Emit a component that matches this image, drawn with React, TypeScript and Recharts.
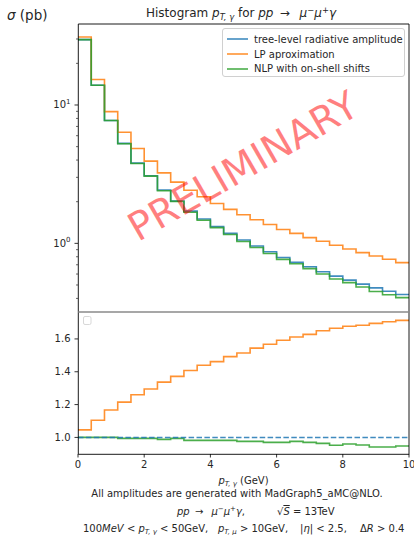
import React from 'react';
import { LineChart, Line, XAxis, YAxis, Legend } from 'recharts';

// ---- data ----
const binEdges = [0, 0.4, 0.8, 1.2, 1.6, 2.0, 2.4, 2.8, 3.2, 3.6, 4.0, 4.4, 4.8, 5.2, 5.6, 6.0, 6.4, 6.8, 7.2, 7.6, 8.0, 8.4, 8.8, 9.2, 9.6, 10];
const treeLevel = [29.7, 13.9, 7.73, 5.28, 3.8, 3.08, 2.43, 2.02, 1.71, 1.5, 1.32, 1.18, 1.057, 0.956, 0.87, 0.79, 0.73, 0.677, 0.623, 0.58, 0.542, 0.507, 0.477, 0.451, 0.427];
const lpApprox = [31.0, 15.3, 8.95, 6.35, 4.85, 3.93, 3.23, 2.77, 2.42, 2.17, 1.94, 1.76, 1.61, 1.48, 1.37, 1.26, 1.18, 1.1, 1.035, 0.97, 0.91, 0.857, 0.81, 0.767, 0.725];
const nlpShifts = [29.7, 13.9, 7.73, 5.25, 3.78, 3.06, 2.4, 2.01, 1.68, 1.47, 1.3, 1.16, 1.032, 0.933, 0.844, 0.766, 0.712, 0.657, 0.601, 0.552, 0.52, 0.484, 0.449, 0.425, 0.405];
const ratioTree = [1, 1, 1, 1, 1, 1, 1, 1, 1, 1, 1, 1, 1, 1, 1, 1, 1, 1, 1, 1, 1, 1, 1, 1, 1];
const ratioLP = [1.046, 1.105, 1.167, 1.215, 1.26, 1.295, 1.337, 1.372, 1.408, 1.44, 1.462, 1.492, 1.514, 1.544, 1.568, 1.592, 1.612, 1.628, 1.65, 1.665, 1.677, 1.683, 1.695, 1.705, 1.713];
const ratioNLP = [1.0, 1.0, 1.0, 0.994, 0.994, 0.994, 0.988, 0.994, 0.982, 0.982, 0.982, 0.982, 0.976, 0.976, 0.97, 0.97, 0.976, 0.97, 0.964, 0.952, 0.96, 0.954, 0.942, 0.942, 0.948];

const xTicks = [0, 2, 4, 6, 8, 10];
const logMajorTicks = [1, 10];
const logAllTicks = [0.4, 0.5, 0.6, 0.7, 0.8, 0.9, 1, 2, 3, 4, 5, 6, 7, 8, 9, 10, 20, 30];
const ratioTicks = [1.0, 1.2, 1.4, 1.6];

const seriesNames = ['tree-level radiative amplitude', 'LP aproximation', 'NLP with on-shell shifts'];
const BLUE = '#1f77b4';
const ORANGE = '#ff7f0e';
const GREEN = '#2ca02c';
const FONT = '"DejaVu Sans", sans-serif';
const TXT = '#262626';

const last = (arr: number[], i: number) => arr[Math.min(i, arr.length - 1)];

const topData = binEdges.map((x, i) => ({
  x,
  tree: last(treeLevel, i),
  lp: last(lpApprox, i),
  nlp: last(nlpShifts, i),
}));

const ratioData = binEdges.map((x, i) => ({
  x,
  tree: last(ratioTree, i),
  lp: last(ratioLP, i),
  nlp: last(ratioNLP, i),
}));

const LogTick = (props: any) => {
  const { x, y, payload } = props;
  const v = payload.value;
  const major = logMajorTicks.includes(v);
  return (
    <g>
      <line x1={x} y1={y} x2={x - (major ? 3.5 : 2)} y2={y} stroke="#000" strokeWidth={major ? 0.8 : 0.6} />
      {major && (
        <text x={x - 7.5} y={y + 3.5} textAnchor="end" fontSize={10} fill={TXT} fontFamily={FONT}>
          10
          <tspan dy={-4.5} fontSize={7}>{v === 1 ? '0' : '1'}</tspan>
        </text>
      )}
    </g>
  );
};

const LegendBox = (props: any) => {
  const payload = [...(props.payload || [])].sort(
    (a: any, b: any) => seriesNames.indexOf(a.value) - seriesNames.indexOf(b.value)
  );
  return (
    <div
      style={{
        width: 183,
        height: 49,
        border: '1px solid #d0d0d0',
        borderRadius: 3,
        background: 'rgba(255,255,255,0.8)',
        fontFamily: FONT,
        fontSize: 10,
        color: TXT,
        boxSizing: 'border-box',
        paddingTop: 3,
      }}
    >
      {payload.map((p: any) => (
        <div key={p.value} style={{ display: 'flex', alignItems: 'center', height: 14.8, whiteSpace: 'nowrap' }}>
          <svg width={30} height={10} style={{ marginLeft: 2 }}>
            <line x1={2} y1={5} x2={23} y2={5} stroke={p.color} strokeWidth={1.6} strokeOpacity={0.85} />
          </svg>
          <span style={{ marginLeft: -1 }}>{p.value}</span>
        </div>
      ))}
    </div>
  );
};

export default function App() {
  const W = 414;
  return (
    <div style={{ position: 'absolute', left: 0, top: 0, width: W, height: 535, background: '#fff', overflow: 'hidden' }}>
      {/* Top panel */}
      <div style={{ position: 'absolute', left: 0, top: 0 }}>
        <LineChart width={W} height={312} data={topData} margin={{ top: 24, right: 5, left: 0, bottom: 0 }}>
          <XAxis dataKey="x" type="number" domain={[0, 10]} ticks={xTicks} hide />
          <YAxis
            type="number"
            scale="log"
            domain={[0.319, 38.5]}
            allowDataOverflow
            ticks={logAllTicks}
            interval={0}
            tick={<LogTick />}
            tickSize={0}
            tickMargin={0}
            tickLine={false}
            axisLine={false}
            width={78}
          />
          <Legend
            verticalAlign="middle"
            align="center"
            layout="horizontal"
            width={183}
            wrapperStyle={{ left: 222, top: 28, width: 183 }}
            content={<LegendBox />}
          />
          <Line type="stepAfter" dataKey="tree" name={seriesNames[0]} stroke={BLUE} strokeWidth={1.6} strokeOpacity={0.85} dot={false} isAnimationActive={false} />
          <Line type="stepAfter" dataKey="lp" name={seriesNames[1]} stroke={ORANGE} strokeWidth={1.6} strokeOpacity={0.85} dot={false} isAnimationActive={false} />
          <Line type="stepAfter" dataKey="nlp" name={seriesNames[2]} stroke={GREEN} strokeWidth={1.6} strokeOpacity={0.85} dot={false} isAnimationActive={false} />
        </LineChart>
      </div>

      {/* Ratio panel */}
      <div style={{ position: 'absolute', left: 0, top: 312 }}>
        <LineChart width={W} height={162} data={ratioData} margin={{ top: 0, right: 5, left: 0, bottom: 0 }}>
          <XAxis
            dataKey="x"
            type="number"
            domain={[0, 10]}
            ticks={xTicks}
            interval={0}
            height={20}
            tickSize={3.5}
            tickMargin={3.5}
            axisLine={false}
            tickLine={{ stroke: '#000', strokeWidth: 0.8 }}
            tick={{ fontSize: 10, fill: TXT, fontFamily: FONT }}
          />
          <YAxis
            type="number"
            domain={[0.899, 1.764]}
            allowDataOverflow
            ticks={ratioTicks}
            interval={0}
            tickFormatter={(v: number) => v.toFixed(1)}
            width={78}
            tickSize={3.5}
            tickMargin={4}
            axisLine={false}
            tickLine={{ stroke: '#000', strokeWidth: 0.8 }}
            tick={{ fontSize: 10, fill: TXT, fontFamily: FONT }}
          />
          <Line type="stepAfter" dataKey="lp" stroke={ORANGE} strokeWidth={1.6} strokeOpacity={0.85} dot={false} isAnimationActive={false} />
          <Line type="stepAfter" dataKey="nlp" stroke={GREEN} strokeWidth={1.6} strokeOpacity={0.85} dot={false} isAnimationActive={false} />
          <Line type="stepAfter" dataKey="tree" stroke={BLUE} strokeWidth={1.5} strokeDasharray="5.5 2.4" strokeOpacity={0.85} dot={false} isAnimationActive={false} />
        </LineChart>
      </div>

      {/* Frames, labels and annotations */}
      <svg width={W} height={535} style={{ position: 'absolute', left: 0, top: 0, pointerEvents: 'none' }} fontFamily={FONT}>
        {/* frames */}
        <line x1={78.3} y1={24} x2={409} y2={24} stroke="#000" strokeWidth={0.9} />
        <line x1={78.3} y1={24} x2={78.3} y2={454.3} stroke="#000" strokeWidth={0.9} />
        <line x1={409} y1={24} x2={409} y2={454.3} stroke="#000" strokeWidth={0.9} />
        <line x1={78.3} y1={312} x2={409} y2={312} stroke="#8a8a8a" strokeWidth={1.3} />
        <line x1={78.3} y1={454.3} x2={409} y2={454.3} stroke="#000" strokeWidth={0.9} />
        {/* empty legend box of ratio panel */}
        <rect x={83.5} y={316.5} width={7.5} height={8} rx={1.5} fill="#fff" stroke="#d8d8d8" strokeWidth={1} />

        {/* watermark */}
        <text
          x={243}
          y={166}
          transform="rotate(-30 243 166)"
          textAnchor="middle"
          dominantBaseline="central"
          fontSize={39}
          fill="#ff0000"
          fillOpacity={0.5}
        >
          PRELIMINARY
        </text>

        {/* y label */}
        <text x={7} y={20} fontSize={13.5} fill={TXT}>
          <tspan fontStyle="italic">σ</tspan>
          <tspan>{' (pb)'}</tspan>
        </text>

        {/* title */}
        <text x={241} y={17} textAnchor="middle" fontSize={12} fill={TXT}>
          <tspan>{'Histogram '}</tspan>
          <tspan fontStyle="italic">p</tspan>
          <tspan fontStyle="italic" fontSize={8.4} dy={2.5}>{'T, γ'}</tspan>
          <tspan dy={-2.5}>{' for '}</tspan>
          <tspan fontStyle="italic">pp</tspan>
          <tspan>{' \u2009\u2192\u2002 '}</tspan>
          <tspan fontStyle="italic">μ</tspan>
          <tspan fontSize={8.4} dy={-4.5}>−</tspan>
          <tspan fontStyle="italic" fontSize={12} dy={4.5}>μ</tspan>
          <tspan fontSize={8.4} dy={-4.5}>+</tspan>
          <tspan fontStyle="italic" fontSize={12} dy={4.5}>γ</tspan>
        </text>

        {/* x label */}
        <text x={243.5} y={484} textAnchor="middle" fontSize={10} fill={TXT}>
          <tspan fontStyle="italic">p</tspan>
          <tspan fontStyle="italic" fontSize={7} dy={1.5}>{'T, γ'}</tspan>
          <tspan dy={-1.5}>{' (GeV)'}</tspan>
        </text>

        {/* footer */}
        <text x={237} y={496.5} textAnchor="middle" fontSize={10} fill={TXT}>
          All amplitudes are generated with MadGraph5_aMC@NLO.
        </text>
        <text x={177} y={515} fontSize={10} fill={TXT}>
          <tspan fontStyle="italic">pp</tspan>
          <tspan>{' \u2009\u2192\u2002 '}</tspan>
          <tspan fontStyle="italic">μ</tspan>
          <tspan fontSize={7} dy={-4}>−</tspan>
          <tspan fontStyle="italic" fontSize={10} dy={4}>μ</tspan>
          <tspan fontSize={7} dy={-4}>+</tspan>
          <tspan fontStyle="italic" fontSize={10} dy={4}>γ</tspan>
          <tspan>,</tspan>
        </text>
        <text x={277} y={515} fontSize={10} fill={TXT}>
          <tspan>√</tspan>
          <tspan fontStyle="italic" style={{ textDecoration: 'overline' }}>S</tspan>
          <tspan>{' = 13TeV'}</tspan>
        </text>
        <text x={83} y={531.5} fontSize={10} fill={TXT}>
          <tspan>100</tspan>
          <tspan fontStyle="italic">MeV</tspan>
          <tspan>{' < '}</tspan>
          <tspan fontStyle="italic">p</tspan>
          <tspan fontStyle="italic" fontSize={7} dy={2}>{'T, γ'}</tspan>
          <tspan dy={-2}>{' < 50GeV,'}</tspan>
        </text>
        <text x={218} y={531.5} fontSize={10} fill={TXT}>
          <tspan fontStyle="italic">p</tspan>
          <tspan fontStyle="italic" fontSize={7} dy={2}>{'T, μ'}</tspan>
          <tspan dy={-2}>{' > 10GeV,'}</tspan>
        </text>
        <text x={300} y={531.5} fontSize={10} fill={TXT}>
          <tspan>|</tspan>
          <tspan fontStyle="italic">η</tspan>
          <tspan>{'| < 2.5,'}</tspan>
        </text>
        <text x={360} y={531.5} fontSize={10} fill={TXT}>
          <tspan>Δ</tspan>
          <tspan fontStyle="italic">R</tspan>
          <tspan>{' > 0.4'}</tspan>
        </text>
      </svg>
    </div>
  );
}
